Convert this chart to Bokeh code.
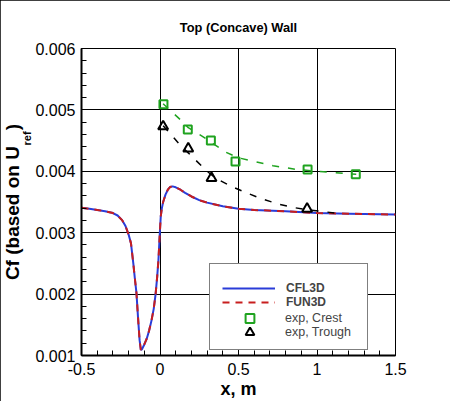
import numpy as np
from bokeh.plotting import figure
from bokeh.models import FixedTicker, Legend, LegendItem, Range1d, Title
from bokeh.embed import file_html
from bokeh.resources import INLINE

# ---------------- data ----------------
cfd_x = [-0.5, -0.45, -0.4, -0.35, -0.3, -0.27, -0.24, -0.22, -0.2, -0.185,
         -0.17, -0.16, -0.15, -0.14, -0.13, -0.122, -0.115, -0.1, -0.085, -0.07,
         -0.055, -0.04, -0.028, -0.018, -0.01, -0.004, 0.0, 0.005, 0.012, 0.02,
         0.035, 0.05, 0.065, 0.08, 0.1, 0.13, 0.16, 0.2, 0.25, 0.3,
         0.4, 0.5, 0.6, 0.8, 1.0, 1.2, 1.5]
cfl3d_cf = [0.003405, 0.00339, 0.00337, 0.00335, 0.00332, 0.00328, 0.00320, 0.00311, 0.00297, 0.00283,
            0.00250, 0.00225, 0.00202, 0.00162, 0.00125, 0.00109, 0.00110, 0.00118, 0.00127, 0.00140,
            0.00156, 0.00176, 0.00200, 0.00228, 0.00255, 0.00285, 0.00305, 0.00327, 0.00340, 0.00350,
            0.00362, 0.00370, 0.003745, 0.003755, 0.00374, 0.00370, 0.00365, 0.00359, 0.00353, 0.00349,
            0.00343, 0.00339, 0.00337, 0.00335, 0.00332, 0.00331, 0.003295]
fun3d_cf = [0.003405, 0.00339, 0.00337, 0.00335, 0.00332, 0.00328, 0.00320, 0.00311, 0.00297, 0.00283,
            0.00250, 0.00225, 0.00202, 0.00162, 0.00125, 0.00109, 0.00110, 0.00118, 0.00127, 0.00140,
            0.00156, 0.00176, 0.00200, 0.00228, 0.00255, 0.00285, 0.00305, 0.00327, 0.00340, 0.00350,
            0.00362, 0.00370, 0.003745, 0.003755, 0.00374, 0.00370, 0.00365, 0.00359, 0.00353, 0.00349,
            0.00343, 0.00339, 0.00337, 0.00335, 0.00332, 0.00331, 0.003295]

crest_x = [0.022, 0.177, 0.324, 0.481, 0.94, 1.247]
crest_cf = [0.00509, 0.00468, 0.00450, 0.00416, 0.00403, 0.00395]
trough_x = [0.02, 0.18, 0.328, 0.937]
trough_cf = [0.00473, 0.00437, 0.00389, 0.00339]

crest_fit_x = [0.02, 0.07, 0.13, 0.18, 0.27, 0.35, 0.42, 0.5, 0.6, 0.72, 0.87, 1.0, 1.1, 1.25]
crest_fit_cf = [0.00510, 0.00498, 0.00484, 0.00471, 0.00457, 0.00443, 0.00431, 0.00422, 0.00416,
                0.00409, 0.00403, 0.00400, 0.00398, 0.00395]
trough_fit_x = [0.02, 0.07, 0.12, 0.18, 0.24, 0.3, 0.36, 0.45, 0.55, 0.65, 0.75, 0.85, 0.95, 1.05, 1.15]
trough_fit_cf = [0.00474, 0.00460, 0.00445, 0.00430, 0.00415, 0.00400, 0.00388, 0.00376, 0.00365,
                 0.00355, 0.00347, 0.00341, 0.00337, 0.00334, 0.00331]

x_ticks = [-0.5, 0.0, 0.5, 1.0, 1.5]
x_tick_labels = ["-0.5", "0", "0.5", "1", "1.5"]
y_ticks = [0.001, 0.002, 0.003, 0.004, 0.005, 0.006]
y_tick_labels = ["0.001", "0.002", "0.003", "0.004", "0.005", "0.006"]

title_text = "Top (Concave) Wall"
x_label = "x, m"
y_label_main = "Cf (based on U\u00a0\u00a0\u00a0)"
y_label_sub = "ref"
series_names = ["CFL3D", "FUN3D", "exp, Crest", "exp, Trough"]

# ---------------- styles ----------------
FONT = "Liberation Sans"
BLUE = "#2a3cd8"
RED = "#c81e1e"
GREEN = "#1fa31f"

p = figure(width=450, height=401, output_backend="svg", toolbar_location=None,
           x_range=Range1d(-0.5, 1.5), y_range=Range1d(0.001, 0.006),
           min_border_left=81, min_border_right=55, min_border_top=48, min_border_bottom=46)
p.background_fill_color = "white"
p.border_fill_color = "white"
p.outline_line_color = "black"
p.outline_line_width = 1
p.styles = {"outline": "1px solid black", "outline-offset": "-1px"}

p.title.text = title_text
p.title.align = "center"
p.title.vertical_align = "middle"
p.title.standoff = 26
p.title.text_font = FONT
p.title.text_font_size = "12.8px"
p.title.text_font_style = "bold"
p.title.text_color = "black"

xt = FixedTicker(ticks=x_ticks, minor_ticks=[round(v, 2) for v in np.arange(-0.5, 1.5001, 0.1)])
yt = FixedTicker(ticks=y_ticks, minor_ticks=[round(v, 5) for v in np.arange(0.001, 0.006001, 0.0002)])
p.xaxis.ticker = xt
p.yaxis.ticker = yt
p.xgrid.ticker = xt
p.ygrid.ticker = yt
p.xaxis.major_label_overrides = dict(zip(x_ticks, x_tick_labels))
p.yaxis.major_label_overrides = dict(zip(y_ticks, y_tick_labels))

for g in (p.xgrid, p.ygrid):
    g.grid_line_color = "black"
    g.grid_line_width = 1
    g.grid_line_alpha = 1

for ax in (p.xaxis, p.yaxis):
    ax.axis_line_color = "black"
    ax.axis_line_width = 2
    ax.major_tick_in = 8
    ax.major_tick_out = 0
    ax.minor_tick_in = 5
    ax.minor_tick_out = 0
    ax.major_tick_line_color = "black"
    ax.minor_tick_line_color = "black"
    ax.major_label_text_font = FONT
    ax.major_label_text_font_size = "16px"
    ax.major_label_text_color = "black"
p.yaxis.major_label_standoff = 6
p.xaxis.major_label_standoff = 7

p.xaxis.axis_label = x_label
p.xaxis.axis_label_standoff = 1
p.xaxis.axis_label_text_font = FONT
p.xaxis.axis_label_text_font_size = "18px"
p.xaxis.axis_label_text_font_style = "bold"
p.xaxis.axis_label_text_color = "black"

# y label: subscript and main text as two titles on the left side
p.add_layout(Title(text=y_label_sub, align="left", offset=210, standoff=0,
                   vertical_align="bottom",
                   text_font=FONT, text_font_size="11px", text_font_style="bold",
                   text_color="black"), "left")
p.add_layout(Title(text=y_label_main, align="center", offset=0, standoff=-9,
                   vertical_align="bottom",
                   text_font=FONT, text_font_size="19px", text_font_style="bold",
                   text_color="black"), "left")

# ---------------- glyphs ----------------
r_cfl = p.line(cfd_x, cfl3d_cf, line_color=BLUE, line_width=2)
r_fun = p.line(cfd_x, fun3d_cf, line_color=RED, line_width=2, line_dash="7 6")
p.line(crest_fit_x, crest_fit_cf, line_color=GREEN, line_width=1.5, line_dash="7 9")
p.line(trough_fit_x, trough_fit_cf, line_color="black", line_width=1.5, line_dash="7 9")
r_crest = p.scatter(crest_x, crest_cf, marker="square", size=8, line_color=GREEN,
                    line_width=2, fill_color=None)
r_trough = p.scatter(trough_x, trough_cf, marker="triangle", size=10, line_color="black",
                     line_width=2, fill_color=None)
ghost = p.scatter(x=[], y=[], size=1, alpha=0)

# ---------------- legends ----------------
# box with the two model lines (and two spacer rows)
legA = Legend(items=[LegendItem(label=series_names[0], renderers=[r_cfl]),
                     LegendItem(label=series_names[1], renderers=[r_fun]),
                     LegendItem(label=" ", renderers=[ghost]),
                     LegendItem(label=" ", renderers=[ghost])],
              location=(128, 5), orientation="vertical", padding=12, spacing=0,
              glyph_width=53, glyph_height=14, label_height=14, label_width=69,
              label_standoff=11, label_text_font=FONT, margin=0,
              label_text_font_style="bold", label_text_font_size="12px",
              border_line_color="black", border_line_width=1,
              background_fill_color="white", background_fill_alpha=1,
              title=" ", title_text_font_size="4px", title_standoff=0)
# experimental rows (separate so that the markers keep their size)
exp_common = dict(orientation="vertical", padding=0, spacing=0, glyph_width=53,
                  glyph_height=22, label_height=22, label_width=60, label_standoff=9,
                  label_text_font=FONT, label_text_font_size="12.5px",
                  label_text_font_style="normal", margin=0,
                  border_line_alpha=0, background_fill_alpha=0)
legC = Legend(items=[LegendItem(label=series_names[2], renderers=[r_crest])],
              location=(142, 26), **exp_common)
legD = Legend(items=[LegendItem(label=series_names[3], renderers=[r_trough])],
              location=(142, 12), **exp_common)
p.add_layout(legA)
p.add_layout(legC)
p.add_layout(legD)

open("out.html", "w").write(file_html(p, INLINE))
